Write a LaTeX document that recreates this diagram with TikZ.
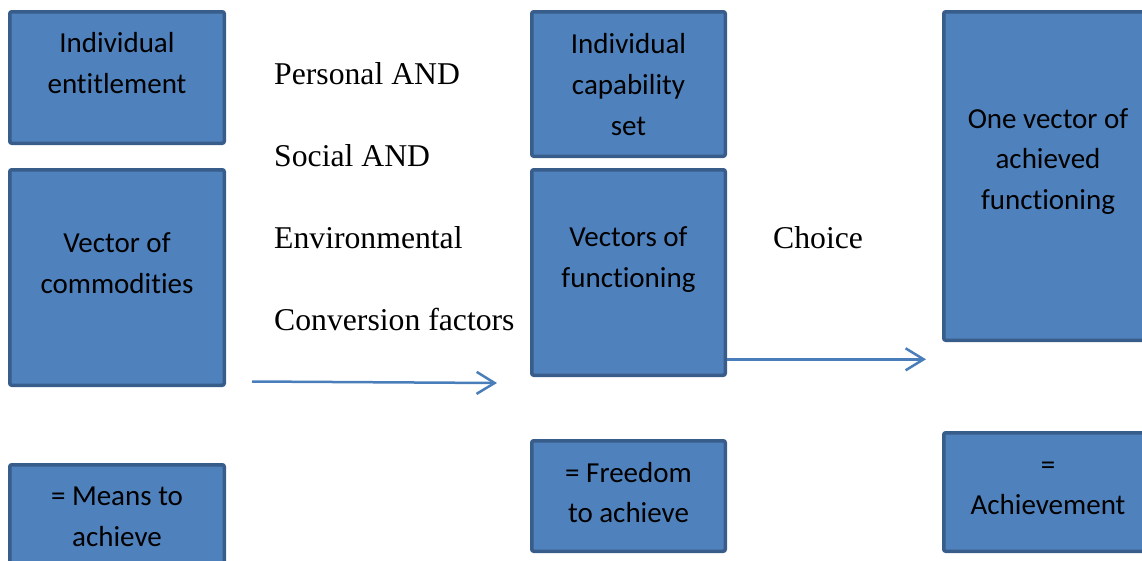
\documentclass[tikz,border=0pt]{standalone}
\usepackage{fontspec}
\setmainfont{Liberation Serif}
\newfontfamily\boxfont[Ligatures=NoCommon]{Carlito}
\usetikzlibrary{arrows.meta}
\definecolor{boxfill}{HTML}{4F81BD}
\definecolor{boxline}{HTML}{385D8A}
\definecolor{flowblue}{HTML}{4A7EBB}
\tikzset{
  box/.style={draw=boxline, fill=boxfill, line width=3.5pt, rounded corners=2pt, inner sep=0pt},
  boxtext/.style={align=center, inner sep=0pt, font=\boxfont\fontsize{29}{40.7}\selectfont},
  factor/.style={anchor=base west, inner sep=0pt, font=\fontsize{31.7}{38}\selectfont},
  flow/.style={draw=flowblue, line width=2.5pt, -{Straight Barb[length=18pt,width=22pt]}}
}

\begin{document}
\begin{tikzpicture}[x=1pt,y=-1pt]
	\useasboundingbox (0,0) rectangle (1142,560);
	% means
	\node[box, minimum width=214.5pt, minimum height=131.5pt] (ent) at (117,77.5) {};
	\node[box, minimum width=214.5pt, minimum height=215.5pt] (comm) at (117,277.5) {};
	\node[box, minimum width=214.5pt, minimum height=123.5pt] (means) at (117,526.5) {};
	\node[boxtext] (entt) at (117,63) {Individual\\entitlement};
	\node[boxtext] (commt) at (117,263.5) {Vector of\\commodities};
	\node[boxtext] (meanst) at (117,517) {= Means to\\achieve};
	% conversion factors
	\node[factor] (pers) at (274,84) {Personal AND};
	\node[factor] (soc) at (274,166) {Social AND};
	\node[factor] (env) at (274,248) {Environmental};
	\node[factor] (conv) at (274,330) {Conversion factors};
	% freedom
	\node[box, minimum width=193.5pt, minimum height=144.5pt] (cap) at (628.5,84) {};
	\node[box, minimum width=193.5pt, minimum height=205.5pt] (func) at (628.5,272.5) {};
	\node[box, minimum width=193.5pt, minimum height=110.5pt] (free) at (628.5,496) {};
	\node[boxtext] (capt) at (628.5,84.5) {Individual\\capability\\set};
	\node[boxtext] (funct) at (628.5,259.5) {Vectors of\\functioning};
	\node[boxtext] (freet) at (628.5,492.5) {= Freedom\\to achieve};
	\node[factor] (choice) at (773,248) {Choice};
	% achievement
	\node[box, minimum width=208.5pt, minimum height=328.5pt] (ach) at (1048,176) {};
	\node[box, minimum width=208.5pt, minimum height=118.5pt] (achv) at (1048,492) {};
	\node[boxtext] (acht) at (1048,161.5) {One vector of\\achieved\\functioning};
	\node[boxtext] (achvt) at (1048,488.5) {=\\Achievement};
	% arrows
	\coordinate (a1) at (252,381.5);
	\coordinate (a2) at (497,383);
	\coordinate (a3) at (926,359.3);
	\draw[flow] (a1) -- (a2);
	\draw[flow] (func.east |- a3) -- (a3);
\end{tikzpicture}
\end{document}
